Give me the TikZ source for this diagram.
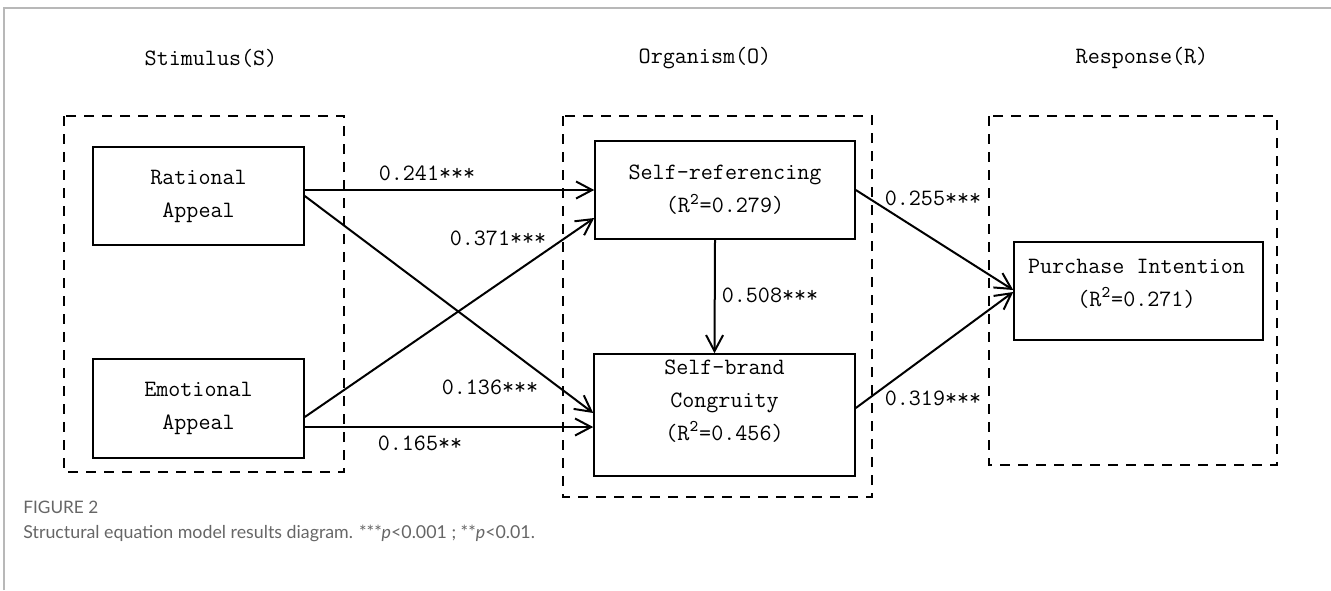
\documentclass[tikz,border=0pt]{standalone}
\usepackage{fontspec}
\newfontfamily\capfont{Lato}
\usetikzlibrary{arrows.meta,calc}
\begin{document}
\begin{tikzpicture}[x=0.5pt,y=-0.5pt,
  txt/.style={font=\ttfamily\fontsize{11.7}{16.5}\selectfont, align=center, inner sep=0pt},
  box/.style={draw, line width=0.8pt, inner sep=0pt, txt},
  grp/.style={draw, line width=1.3pt, dash pattern=on 5pt off 4pt},
  arr/.style={-{Straight Barb[length=8pt,width=8.5pt,line width=1pt]}, line width=1pt},
  coef/.style={txt},
  frame/.style={draw=black!28, line width=0.8pt},
  captxt/.style={anchor=west, inner sep=0pt, text=black!60}
]
\useasboundingbox (0,0) rectangle (1331,590);
% outer frame
\draw[frame] (4,590) -- (4,8) -- (1331,8);
% titles
\node[txt] (tS) at (211,58) {Stimulus(S)};
\node[txt] (tO) at (705,58) {Organism(O)};
\node[txt] (tR) at (1142,58) {Response(R)};
% group frames
\draw[grp] (64,116) rectangle (344,472);
\draw[grp] (563,116) rectangle (872,497);
\draw[grp] (989,116) rectangle (1277,465);
% boxes
\node[box, minimum width=105.5pt, minimum height=49pt] (rat) at (198.5,196) {Rational\\Appeal};
\node[box, minimum width=105.5pt, minimum height=49.5pt] (emo) at (198.5,408.5) {Emotional\\Appeal};
\node[box, minimum width=130pt, minimum height=49pt] (sr) at (725,190) {Self-referencing\\(R\textsuperscript{2}=0.279)};
\node[box, minimum width=130.5pt, minimum height=61pt,
  label={[txt, yshift=7pt]center:{Self-brand\\Congruity\\(R\textsuperscript{2}=0.456)}}] (sb) at (724.5,415) {};
\node[box, minimum width=124.5pt, minimum height=49pt,
  label={[txt, yshift=3.7pt, xshift=-1pt]center:{Purchase Intention\\(R\textsuperscript{2}=0.271)}}] (pi) at (1138.5,291) {};
% arrows
\draw[arr] (rat.east |- sr.west) -- (sr.west);
\draw[arr] (rat.east) -- ($(sb.west)+(0,-2)$);
\draw[arr] ($(emo.east)+(0,8.5)$) -- ($(sr.west)+(0,28)$);
\draw[arr] ($(emo.east)+(0,18.5)$) -- ($(sb.west)+(0,12)$);
\draw[arr] ($(sr.south)+(-10,0)$) -- ($(sb.north)+(-10,0)$);
\draw[arr] (sr.east) -- ($(pi.west)+(0,-1)$);
\draw[arr] ($(sb.east)+(0,-7)$) -- ($(pi.west)+(0,1)$);
% coefficients
\node[coef] (c1) at (427,173) {0.241***};
\node[coef] (c2) at (498,238) {0.371***};
\node[coef] (c3) at (490,387) {0.136***};
\node[coef] (c4) at (420,443) {0.165**};
\node[coef] (c5) at (770,295) {0.508***};
\node[coef] (c6) at (933,198) {0.255***};
\node[coef] (c7) at (933,398) {0.319***};
% caption
\node[captxt, font=\capfont\fontsize{8.6}{10}\selectfont] (fig) at (23,507) {FIGURE 2};
\node[captxt, font=\capfont\fontsize{8.9}{10}\selectfont] (cap) at (23,533)
  {Structural equation model results diagram. ***{\itshape p}<0.001 ; **{\itshape p}<0.01.};
\end{tikzpicture}
\end{document}
